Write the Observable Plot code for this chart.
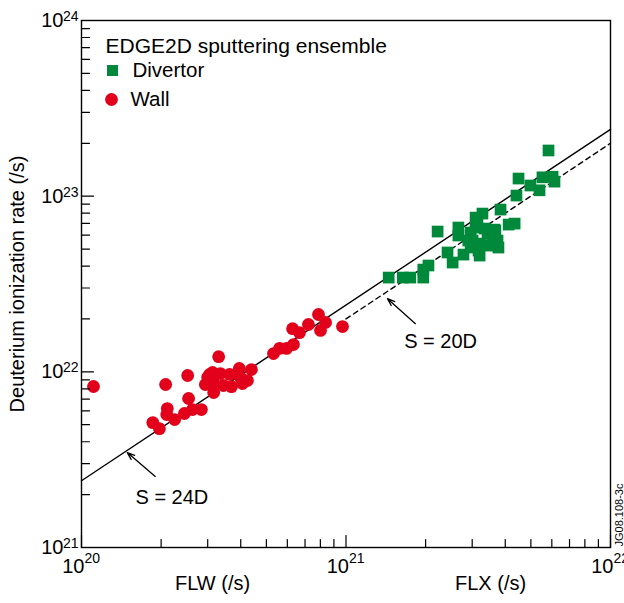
<!DOCTYPE html>
<html>
<head>
<meta charset="utf-8">
<script src="https://cdn.jsdelivr.net/npm/d3@7"></script>
<script src="https://cdn.jsdelivr.net/npm/@observablehq/plot@0.6"></script>
<style>
  body { margin: 0; background: #fff; }
  #chart { width: 624px; height: 603px; }
</style>
</head>
<body>
<div id="chart"></div>
<script>
// ---- Data ----
const wallFLW = [1.11e20, 2.08e20, 2.52e20, 2.54e20, 2.11e20, 2.10e20, 2.25e20, 1.86e20, 1.97e20, 2.45e20,
  2.63e20, 2.84e20, 3.30e20, 3.05e20, 3.13e20, 3.35e20, 3.63e20, 3.95e20, 4.39e20, 3.16e20,
  3.16e20, 3.44e20, 3.69e20, 4.06e20, 4.24e20, 3.99e20, 5.32e20, 5.61e20, 5.96e20, 6.33e20,
  6.28e20, 6.67e20, 7.21e20, 7.87e20, 8.37e20, 8.01e20, 9.70e20, 3.00e20, 2.94e20];
const wallRate = [8.25e21, 8.47e21, 9.53e21, 7.05e21, 6.18e21, 5.71e21, 5.35e21, 5.14e21, 4.75e21, 5.79e21,
  6.10e21, 6.10e21, 1.22e22, 9.66e21, 9.91e21, 9.78e21, 9.66e21, 1.045e22, 1.03e22, 7.62e21,
  8.69e21, 8.36e21, 8.24e21, 8.58e21, 8.92e21, 9.28e21, 1.27e22, 1.36e22, 1.36e22, 1.43e22,
  1.76e22, 1.67e22, 1.86e22, 2.12e22, 1.91e22, 1.72e22, 1.81e22, 9.3e21, 8.47e21];

const divFLX = [5.83e21, 4.49e21, 5.53e21, 6.04e21, 6.14e21, 4.98e21, 5.39e21, 4.41e21,
  3.84e21, 4.12e21, 4.34e21, 3.64e21, 3.28e21, 3.14e21, 3.09e21, 2.66e21, 2.66e21, 2.22e21,
  3.01e21, 3.22e21, 3.46e21, 3.77e21, 3.74e21, 2.96e21, 3.20e21, 2.78e21, 2.42e21, 2.53e21,
  2.05e21, 1.96e21, 1.96e21, 1.64e21, 1.75e21, 1.45e21,
  3.43e21, 3.58e21, 2.90e21, 3.09e21, 3.67e21, 3.34e21, 3.17e21, 2.96e21];
const divRate = [1.82e23, 1.26e23, 1.28e23, 1.29e23, 1.21e23, 1.15e23, 1.08e23, 1.008e23,
  8.39e22, 6.89e22, 6.98e22, 6.45e22, 7.96e22, 7.46e22, 6.63e22, 6.63e22, 5.97e22, 6.29e22,
  5.59e22, 5.37e22, 5.23e22, 5.10e22, 5.59e22, 5.10e22, 4.59e22, 4.65e22, 4.78e22, 4.19e22,
  4.03e22, 3.82e22, 3.44e22, 3.44e22, 3.44e22, 3.44e22,
  6.12e22, 5.82e22, 5.59e22, 7.55e22, 6.37e22, 6.54e22, 4.90e22, 6.21e22];

// fit lines S = k * D
const fitLabels = ["S = 24D", "S = 20D"];
const fitFactors = [24, 20];
const fitXStart = [1e20, 1e21];
const fitXEnd = [1e22, 1e22];
const fitDashed = [false, true];

// annotation arrows (tail -> tip) and label anchors
const arrowTailX = [1.90e20, 1.83e21];
const arrowTailY = [2.54e21, 1.88e22];
const arrowTipX = [1.49e20, 1.435e21];
const arrowTipY = [3.47e21, 2.61e22];
const fitLabelX = [1.60e20, 1.66e21];
const fitLabelY = [1.93e21, 1.49e22];

// axes
const xMajor = [1e20, 1e21, 1e22];
const yMajor = [1e21, 1e22, 1e23, 1e24];
const minorMantissa = [2, 3, 4, 5, 6, 7, 8, 9];
const xDecades = [1e20, 1e21];
const yDecades = [1e21, 1e22, 1e23];
const xTitles = ["FLW (/s)", "FLX (/s)"];
const xTitlePos = [3.13e20, 3.52e21];
const yTitle = "Deuterium ionization rate (/s)";
const legendTitle = "EDGE2D sputtering ensemble";
const seriesNames = ["Divertor", "Wall"];
const seriesColors = ["#00893A", "#E2001A"];
const figureId = "JG08.108-3c";

// ---- Build tables ----
const wall = wallFLW.map((x, i) => ({x, y: wallRate[i]}));
const div = divFLX.map((x, i) => ({x, y: divRate[i]}));
const fitLines = fitFactors.map((k, i) => [fitXStart[i], fitXEnd[i]].map(x => ({x, y: k * x})));
const arrows = arrowTipX.map((x, i) => ({x1: arrowTailX[i], y1: arrowTailY[i], x2: x, y2: arrowTipY[i]}));
const fitText = fitLabels.map((t, i) => ({t, x: fitLabelX[i], y: fitLabelY[i]}));
const xMinor = xDecades.flatMap(d => minorMantissa.map(m => m * d));
const yMinor = yDecades.flatMap(d => minorMantissa.map(m => m * d));
const expOf = v => String(Math.round(Math.log10(v)));

const tickShape = {draw(context, l) { context.moveTo(0, 0); context.lineTo(0, -l); }};
const FONT = "'Liberation Sans', Arial, Helvetica, sans-serif";

const chart = Plot.plot({
  width: 624,
  height: 603,
  marginLeft: 81,
  marginRight: 14,
  marginTop: 20,
  marginBottom: 56,
  x: {type: "log", domain: [1e20, 1e22], axis: null},
  y: {type: "log", domain: [1e21, 1e24], axis: null},
  style: {fontFamily: FONT, fontSize: "20px", background: "white", color: "black", overflow: "visible"},
  marks: [
    // fit lines
    ...fitLines.map((d, i) => Plot.line(d, {x: "x", y: "y", stroke: "black", strokeWidth: 1.4,
      strokeDasharray: fitDashed[i] ? "5,4" : null})),
    // arrows
    Plot.arrow(arrows, {x1: "x1", y1: "y1", x2: "x2", y2: "y2", stroke: "black", strokeWidth: 1.3,
      headLength: 9, headAngle: 40}),
    // data
    Plot.dot(div, {x: "x", y: "y", symbol: "square", r: 6.6, fill: seriesColors[0], stroke: null}),
    Plot.dot(wall, {x: "x", y: "y", symbol: "circle", r: 6.4, fill: seriesColors[1], stroke: null}),
    // fit labels
    Plot.text(fitText, {x: "x", y: "y", text: "t", textAnchor: "start", fontSize: 20}),
    // legend
    Plot.text([legendTitle], {frameAnchor: "top-left", text: d => d, dx: 24, dy: 26, textAnchor: "start", lineAnchor: "middle", fontSize: 21}),
    Plot.dot([seriesNames[0]], {frameAnchor: "top-left", dx: 31, dy: 50, symbol: "square", r: 6.2, fill: seriesColors[0]}),
    Plot.text([seriesNames[0]], {frameAnchor: "top-left", text: d => d, dx: 51, dy: 50, textAnchor: "start", lineAnchor: "middle", fontSize: 20.5}),
    Plot.dot([seriesNames[1]], {frameAnchor: "top-left", dx: 30, dy: 79, symbol: "circle", r: 6.4, fill: seriesColors[1]}),
    Plot.text([seriesNames[1]], {frameAnchor: "top-left", text: d => d, dx: 49, dy: 79, textAnchor: "start", lineAnchor: "middle", fontSize: 20.5}),
    // ticks (inward)
    Plot.vector(xMinor, {x: d => d, frameAnchor: "bottom", length: 8, rotate: 0, anchor: "start", shape: tickShape, stroke: "black", strokeWidth: 1.2}),
    Plot.vector(xMajor, {x: d => d, frameAnchor: "bottom", length: 12, rotate: 0, anchor: "start", shape: tickShape, stroke: "black", strokeWidth: 1.2}),
    Plot.vector(yMinor, {y: d => d, frameAnchor: "left", length: 8, rotate: 90, anchor: "start", shape: tickShape, stroke: "black", strokeWidth: 1.2}),
    Plot.vector(yMajor, {y: d => d, frameAnchor: "left", length: 12, rotate: 90, anchor: "start", shape: tickShape, stroke: "black", strokeWidth: 1.2}),
    // tick labels
    Plot.text(xMajor, {x: d => d, frameAnchor: "bottom", text: () => "10", textAnchor: "end", lineAnchor: "middle", dx: 3, dy: 19, fontSize: 20}),
    Plot.text(xMajor, {x: d => d, frameAnchor: "bottom", text: expOf, textAnchor: "start", lineAnchor: "middle", dx: 3, dy: 11, fontSize: 14}),
    Plot.text(yMajor, {y: d => d, frameAnchor: "left", text: () => "10", textAnchor: "end", lineAnchor: "middle", dx: -18, dy: 0, fontSize: 20}),
    Plot.text(yMajor, {y: d => d, frameAnchor: "left", text: expOf, textAnchor: "end", lineAnchor: "middle", dx: -3, dy: -4, fontSize: 14}),
    // axis titles
    Plot.text(xTitles, {x: (d, i) => xTitlePos[i], frameAnchor: "bottom", text: d => d, lineAnchor: "middle", dy: 36, fontSize: 20}),
    Plot.text([yTitle], {frameAnchor: "left", text: d => d, rotate: -90, textAnchor: "middle", lineAnchor: "middle", dx: -64, fontSize: 20}),
    Plot.text([figureId], {frameAnchor: "bottom-right", text: d => d, rotate: -90, textAnchor: "start", lineAnchor: "middle", dx: 9, dy: -1, fontSize: 11}),
    Plot.frame({stroke: "black", strokeWidth: 1.4})
  ]
});
document.getElementById("chart").appendChild(chart);
</script>
</body>
</html>
